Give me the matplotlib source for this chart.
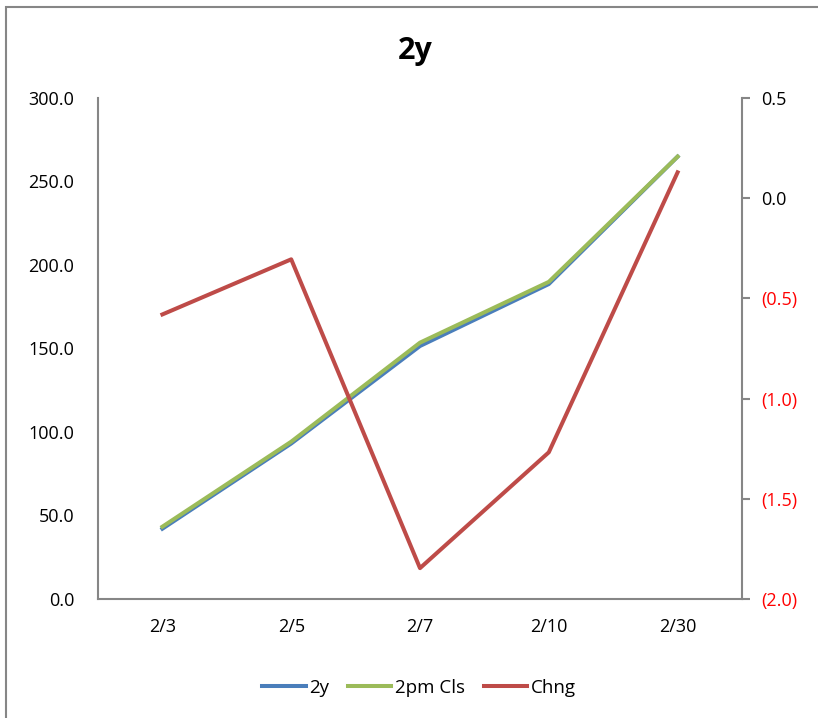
import matplotlib
matplotlib.use("Agg")
from matplotlib import pyplot as plt
from matplotlib.ticker import FuncFormatter
from matplotlib.patches import Rectangle

dates = ['2/3', '2/5', '2/7', '2/10', '2/30']
y2 = [42.1, 93.1, 151.5, 188.6, 264.9]
pm_cls = [43.3, 94.2, 153.5, 189.9, 264.9]
chng = [-0.58, -0.305, -1.846, -1.268, 0.129]

plt.rcParams['font.family'] = ['Open Sans', 'DejaVu Sans']
grey = '#868686'

fig = plt.figure(figsize=(8.18, 7.18), dpi=100)
# chart border (only top/left fall inside the picture)
fig.patches.append(Rectangle((6 / 818, -0.1), 1.2, (718 - 7) / 718 + 0.1,
                             transform=fig.transFigure, fill=False,
                             edgecolor=grey, linewidth=1.5))

ax = fig.add_axes([98 / 818, 1 - 599 / 718, (742 - 98) / 818, (599 - 98) / 718])
x = range(len(dates))
l1, = ax.plot(x, y2, color='#4A7EBB', linewidth=2.9, label='2y')
l2, = ax.plot(x, pm_cls, color='#9BBB59', linewidth=2.9, label='2pm Cls')
ax.set_xlim(-0.5, len(dates) - 0.5)
ax.set_ylim(0, 300)
ax.set_yticks([0, 50, 100, 150, 200, 250, 300])
ax.yaxis.set_major_formatter(FuncFormatter(lambda v, p: f'{v:.1f}'))
ax.set_xticks(list(x))
ax.set_xticklabels(dates)
ax.tick_params(axis='both', length=0, labelsize=13, pad=10)
ax.tick_params(axis='x', pad=14)
ax.tick_params(axis='y', pad=17)
for s in ['top', 'right']:
    ax.spines[s].set_visible(False)
for s in ['left', 'bottom']:
    ax.spines[s].set_color(grey)
    ax.spines[s].set_linewidth(1.5)

ax2 = ax.twinx()
l3, = ax2.plot(x, chng, color='#BE4B48', linewidth=2.9, label='Chng')
ax2.set_ylim(-2.0, 0.5)
ax2.set_yticks([-2.0, -1.5, -1.0, -0.5, 0.0, 0.5])
ax2.yaxis.set_major_formatter(
    FuncFormatter(lambda v, p: f'({abs(v):.1f})' if v < -1e-9 else f'{v:.1f}'))
ax2.tick_params(axis='y', length=6, width=1.5, color=grey, labelsize=13, pad=8)
for lab, v in zip(ax2.get_yticklabels(), ax2.get_yticks()):
    if v < -1e-9:
        lab.set_color('red')
for s in ['top', 'left', 'bottom']:
    ax2.spines[s].set_visible(False)
ax2.spines['right'].set_color(grey)
ax2.spines['right'].set_linewidth(1.5)

fig.text(415 / 818, 1 - 59 / 718, '2y', ha='center', va='baseline',
         fontsize=22, fontweight='bold')

fig.legend([l1, l2, l3], ['2y', '2pm Cls', 'Chng'], loc='center',
           bbox_to_anchor=(419 / 818, 1 - 688 / 718), ncol=3, frameon=False,
           fontsize=13.5, handlelength=2.3, handletextpad=0.2, columnspacing=1.0)

fig.savefig('out.png', dpi=100)
